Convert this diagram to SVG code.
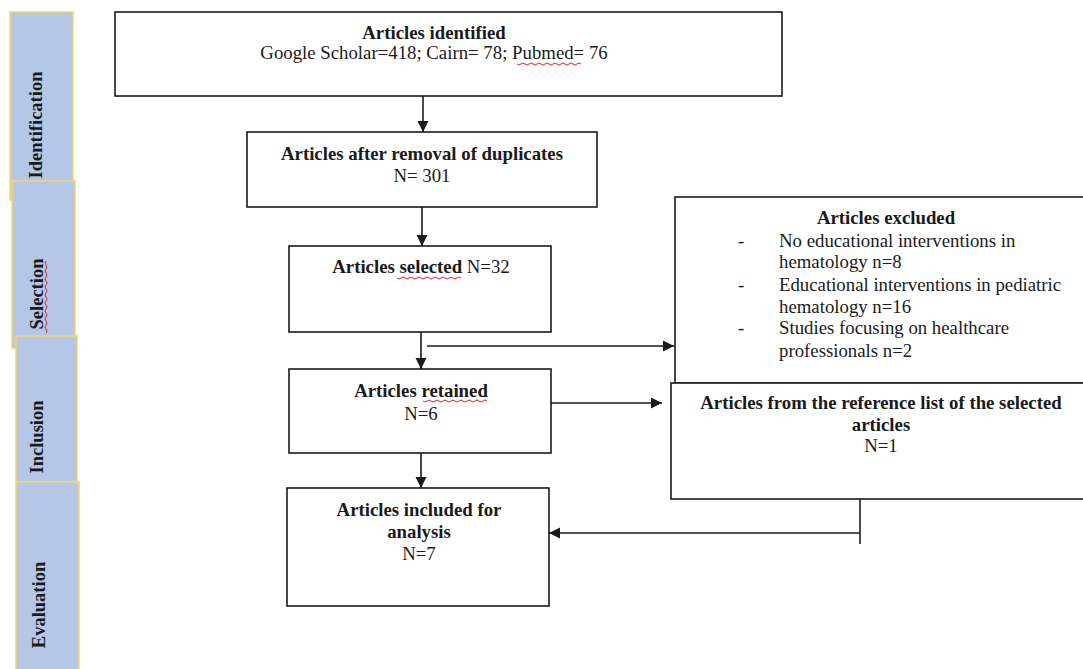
<svg xmlns="http://www.w3.org/2000/svg" width="1083" height="669" viewBox="0 0 1083 669">
<style>
.tab{fill:#b4c7e7;stroke:#f7d568;stroke-width:1.5}
.tabt{font-family:"Liberation Serif",serif;font-weight:bold;font-size:18.5px;fill:#1a1a1a;text-anchor:middle}
.box{fill:#fff;stroke:#1a1a1a;stroke-width:1.6}
.t{font-family:"Liberation Serif",serif;font-size:18.8px;fill:#1a1a1a}
.c{text-anchor:middle}
.b{font-weight:bold}
.ln{stroke:#1a1a1a;stroke-width:1.6;fill:none}
.spell{stroke:#e02020;stroke-width:1;fill:none}
</style>
<defs>
<marker id="ah" markerUnits="userSpaceOnUse" markerWidth="12" markerHeight="12" refX="11" refY="6" orient="auto">
<path d="M0,0.5 L11,6 L0,11.5 Z" fill="#1a1a1a"/>
</marker>
</defs>
<rect width="1083" height="669" fill="#fff"/>
<g id="tab-identification">
<rect class="tab" x="10" y="12" width="63" height="188"/>
<text class="tabt" transform="translate(42,125) rotate(-90)">Identification</text>
</g>
<g id="tab-selection">
<rect class="tab" x="12" y="181" width="63" height="167"/>
<text class="tabt" transform="translate(43,294) rotate(-90)">Selection</text>
<path class="spell" d="M46,333 q2,-2 0,-4 q-2,-2 0,-4 q2,-2 0,-4 q-2,-2 0,-4 q2,-2 0,-4 q-2,-2 0,-4 q2,-2 0,-4 q-2,-2 0,-4 q2,-2 0,-4 q-2,-2 0,-4 q2,-2 0,-4 q-2,-2 0,-4 q2,-2 0,-4 q-2,-2 0,-4 q2,-2 0,-4 q-2,-2 0,-4 q2,-2 0,-4 q-2,-2 0,-4"/>
</g>
<g id="tab-inclusion">
<rect class="tab" x="16" y="336" width="61" height="146"/>
<text class="tabt" transform="translate(43,437) rotate(-90)">Inclusion</text>
</g>
<g id="tab-evaluation">
<rect class="tab" x="16" y="482" width="63" height="195"/>
<text class="tabt" transform="translate(45,605) rotate(-90)">Evaluation</text>
</g>
<g id="connectors">
<line class="ln" x1="423" y1="85" x2="423" y2="132" marker-end="url(#ah)"/>
<line class="ln" x1="422" y1="197" x2="422" y2="246" marker-end="url(#ah)"/>
<line class="ln" x1="421" y1="322" x2="421" y2="369" marker-end="url(#ah)"/>
<line class="ln" x1="427" y1="346" x2="674" y2="346" marker-end="url(#ah)"/>
<line class="ln" x1="551" y1="403" x2="662" y2="403" marker-end="url(#ah)"/>
<line class="ln" x1="421" y1="453" x2="421" y2="488" marker-end="url(#ah)"/>
<line class="ln" x1="860" y1="486" x2="860" y2="544" stroke="#444"/>
<line class="ln" x1="860" y1="533" x2="549" y2="533" marker-end="url(#ah)"/>
</g>
<g id="n-identified">
<rect class="box" x="115" y="12" width="667" height="84"/>
<text class="t c b" x="434" y="39">Articles identified</text>
<text class="t c" x="434" y="59">Google Scholar=418; Cairn= 78; Pubmed= 76</text>
<path class="spell" d="M517,64 q2,2 4,0 q2,-2 4,0 q2,2 4,0 q2,-2 4,0 q2,2 4,0 q2,-2 4,0 q2,2 4,0 q2,-2 4,0 q2,2 4,0 q2,-2 4,0 q2,2 4,0 q2,-2 4,0 q2,2 4,0 q2,-2 4,0 q2,2 4,0 q2,-2 4,0"/>
</g>
<g id="n-duplicates">
<rect class="box" x="247" y="132" width="350" height="75"/>
<text class="t c b" x="422" y="160">Articles after removal of duplicates</text>
<text class="t c" x="422" y="182">N= 301</text>
</g>
<g id="n-selected">
<rect class="box" x="289" y="246" width="262" height="86"/>
<text class="t c" x="421" y="273"><tspan class="b">Articles selected</tspan> N=32</text>
<path class="spell" d="M397,278 q2,2 4,0 q2,-2 4,0 q2,2 4,0 q2,-2 4,0 q2,2 4,0 q2,-2 4,0 q2,2 4,0 q2,-2 4,0 q2,2 4,0 q2,-2 4,0 q2,2 4,0 q2,-2 4,0 q2,2 4,0 q2,-2 4,0 q2,2 4,0 q2,-2 4,0"/>
</g>
<g id="n-retained">
<rect class="box" x="289" y="369" width="262" height="84"/>
<text class="t c b" x="421" y="397">Articles retained</text>
<text class="t c" x="421" y="420">N=6</text>
<path class="spell" d="M423,401 q2,2 4,0 q2,-2 4,0 q2,2 4,0 q2,-2 4,0 q2,2 4,0 q2,-2 4,0 q2,2 4,0 q2,-2 4,0 q2,2 4,0 q2,-2 4,0 q2,2 4,0 q2,-2 4,0 q2,2 4,0 q2,-2 4,0 q2,2 4,0 q2,-2 4,0"/>
</g>
<g id="n-included">
<rect class="box" x="287" y="488" width="262" height="118"/>
<text class="t c b" x="419" y="516">Articles included for</text>
<text class="t c b" x="419" y="538">analysis</text>
<text class="t c" x="419" y="560">N=7</text>
</g>
<g id="n-excluded">
<rect class="box" x="675" y="197" width="420" height="186"/>
<text class="t c b" x="886" y="224">Articles excluded</text>
<text class="t" x="738" y="247">-</text>
<text class="t" x="779" y="247">No educational interventions in</text>
<text class="t" x="779" y="268">hematology n=8</text>
<text class="t" x="738" y="291">-</text>
<text class="t" x="779" y="291">Educational interventions in pediatric</text>
<text class="t" x="779" y="313">hematology n=16</text>
<text class="t" x="738" y="334">-</text>
<text class="t" x="779" y="334">Studies focusing on healthcare</text>
<text class="t" x="779" y="357">professionals n=2</text>
</g>
<g id="n-reference">
<rect class="box" x="671" y="383" width="424" height="116"/>
<text class="t c b" x="881" y="409">Articles from the reference list of the selected</text>
<text class="t c b" x="881" y="431">articles</text>
<text class="t c" x="881" y="452">N=1</text>
</g>
</svg>
